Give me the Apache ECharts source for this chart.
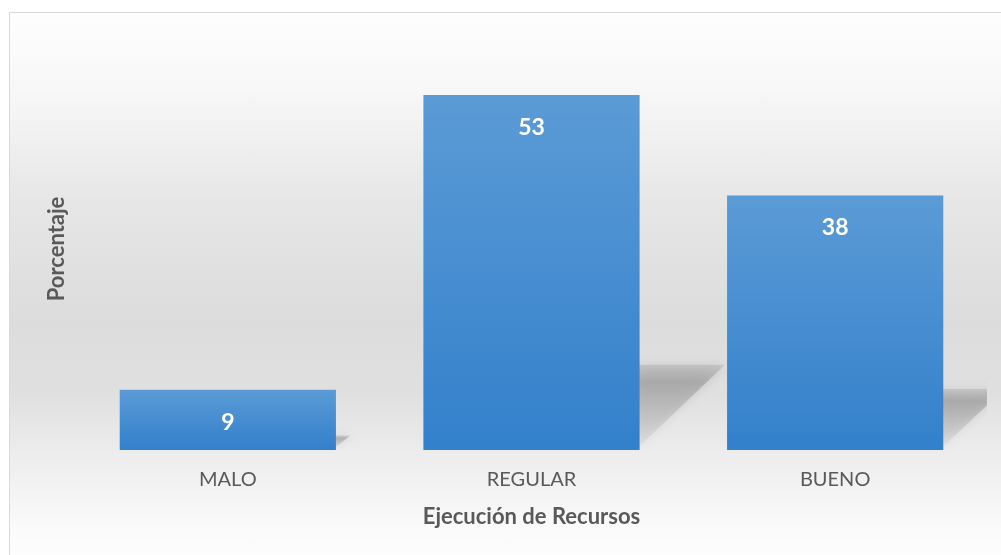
<!DOCTYPE html>
<html>
<head>
<meta charset="utf-8">
<script src="https://cdn.jsdelivr.net/npm/echarts@6.0.0/dist/echarts.min.js"></script>
<style>
  html, body { margin: 0; padding: 0; background: #fff; }
  #frame {
    position: absolute; left: 9px; top: 12px; width: 1010px; height: 560px;
    border: 1px solid #d9d9d9;
    background: linear-gradient(to bottom, #fefefe 0%, #f7f7f7 14%, #e6e6e6 34%, #dcdcdc 55%, #e0e0e0 68%, #eeeeee 80%, #fafafa 92%, #ffffff 100%);
  }
  #chart { position: absolute; left: 0; top: 0; width: 1001px; height: 555px; }
</style>
</head>
<body>
<div id="frame"></div>
<div id="chart"></div>
<script>
const categories = ["MALO", "REGULAR", "BUENO"];
const values = [9, 53, 38];

const chart = echarts.init(document.getElementById("chart"));
const textColor = "#595959";
const font = "Lato, 'Open Sans', sans-serif";

// the slanted grey shadow Excel draws behind each bar
function renderShadow(params, api) {
  const idx = api.value(0);
  const top = api.coord([idx, api.value(1)]);
  const base = api.coord([idx, 0]);
  const band = api.size([1, 0])[0];
  const right = base[0] + band * 0.356;
  const d = (base[1] - top[1]) * 0.24;
  return {
    type: "polygon",
    shape: {
      points: [
        [right - 4, base[1]],
        [right + d, base[1] - d],
        [right - 4, base[1] - d]
      ]
    },
    style: {
      fill: new echarts.graphic.LinearGradient(0, 0, 0, 1, [
        { offset: 0, color: "rgba(160,160,160,0.35)" },
        { offset: 0.2, color: "rgba(150,150,150,0.6)" },
        { offset: 1, color: "rgba(170,170,170,0.1)" }
      ]),
      shadowBlur: 10,
      shadowColor: "rgba(150,150,150,0.6)"
    }
  };
}

const option = {
  animation: false,
  grid: { left: 76, right: 14, top: 48, bottom: 105 },
  xAxis: {
    type: "category",
    data: categories,
    axisLine: { show: false },
    axisTick: { show: false },
    axisLabel: { color: textColor, fontSize: 20, fontFamily: font, margin: 20 },
    name: "Ejecución de Recursos",
    nameLocation: "middle",
    nameGap: 56,
    nameTextStyle: { color: textColor, fontSize: 22, fontWeight: "bold", fontFamily: font }
  },
  yAxis: {
    type: "value",
    min: 0,
    max: 60,
    axisLine: { show: false },
    axisTick: { show: false },
    axisLabel: { show: false },
    splitLine: { show: false },
    name: "Porcentaje",
    nameLocation: "middle",
    nameGap: 8,
    nameTextStyle: { color: textColor, fontSize: 22, fontWeight: "bold", fontFamily: font }
  },
  series: [
    {
      type: "custom",
      z: 1,
      clip: true,
      renderItem: renderShadow,
      data: values.map((v, i) => [i, v])
    },
    {
      type: "bar",
      z: 2,
      data: values,
      barWidth: "71.2%",
      itemStyle: {
        color: new echarts.graphic.LinearGradient(0, 0, 0, 1, [
          { offset: 0, color: "#5b9bd6" },
          { offset: 1, color: "#3380cb" }
        ])
      },
      label: {
        show: true,
        position: "insideTop",
        distance: 21,
        color: "#ffffff",
        fontSize: 23,
        fontWeight: "bold",
        fontFamily: font
      }
    }
  ]
};

chart.setOption(option);
</script>
</body>
</html>
